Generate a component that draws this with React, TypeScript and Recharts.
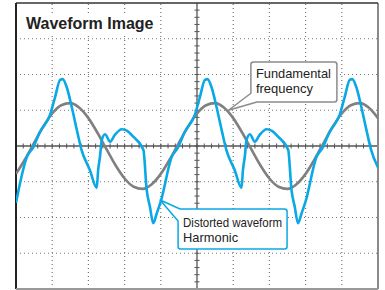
import React from 'react';
import { LineChart, Line, XAxis, YAxis, ReferenceLine, ReferenceDot } from 'recharts';

// ---- data (in screen divisions: x 0..10, y -4..4) ----
const fundamentalX = [0, 0.25, 0.5, 0.75, 1, 1.25, 1.5, 1.75, 2, 2.25, 2.5, 2.75, 3, 3.25, 3.5, 3.75, 4, 4.25, 4.5, 4.75, 5, 5.25, 5.5, 5.75, 6, 6.25, 6.5, 6.75, 7, 7.25, 7.5, 7.75, 8, 8.25, 8.5, 8.75, 9, 9.25, 9.5, 9.75, 10];
const fundamentalY = [-0.78, -0.37, 0.09, 0.54, 0.91, 1.14, 1.2, 1.07, 0.78, 0.37, -0.09, -0.54, -0.91, -1.14, -1.2, -1.07, -0.78, -0.37, 0.09, 0.54, 0.91, 1.14, 1.2, 1.07, 0.78, 0.37, -0.09, -0.54, -0.91, -1.14, -1.2, -1.07, -0.78, -0.37, 0.09, 0.54, 0.91, 1.14, 1.2, 1.07, 0.78];

const harmonicX = [
  0, 0.3, 0.48, 0.66, 0.94, 1.08, 1.22, 1.29, 1.4, 1.54, 1.68, 1.81, 2.04, 2.23, 2.27, 2.32, 2.37, 2.46, 2.6, 2.73, 2.92, 3.06, 3.24, 3.52, 3.61, 3.7, 3.79, 3.89,
  4.0, 4.3, 4.48, 4.66, 4.94, 5.08, 5.22, 5.29, 5.4, 5.54, 5.68, 5.81, 6.04, 6.23, 6.27, 6.32, 6.37, 6.46, 6.6, 6.73, 6.92, 7.06, 7.24, 7.52, 7.61, 7.7, 7.79, 7.89,
  8.0, 8.3, 8.48, 8.66, 8.94, 9.08, 9.22, 9.29, 9.4, 9.54, 9.68, 9.81, 10.0,
];
const harmonicY = [
  -1.59, -0.31, -0.03, 0.39, 0.87, 1.37, 1.85, 1.87, 1.65, 1.09, 0.45, -0.11, -0.67, -1.17, -0.67, -0.3, 0.17, 0.33, 0.12, 0.31, 0.47, 0.43, 0.26, -0.11, -1.23, -1.7, -2.16, -1.88,
  -1.55, -0.31, -0.03, 0.39, 0.87, 1.37, 1.85, 1.87, 1.65, 1.09, 0.45, -0.11, -0.67, -1.17, -0.67, -0.3, 0.17, 0.33, 0.12, 0.31, 0.47, 0.43, 0.26, -0.11, -1.23, -1.7, -2.16, -1.88,
  -1.55, -0.31, -0.03, 0.39, 0.87, 1.37, 1.85, 1.87, 1.65, 1.09, 0.45, -0.11, -0.6,
];

const gridXs = [1, 2, 3, 4, 6, 7, 8, 9];
const gridYs = [-3, -2, -1, 1, 2, 3];

const titleText = 'Waveform Image';
const fundamentalLabel = ['Fundamental', 'frequency'];
const harmonicLabel = ['Distorted waveform', 'Harmonic'];
const fundamentalTip = { x: 5.87, y: 1.0 };
const harmonicTip = { x: 3.98, y: -1.51 };

const fundamentalData = fundamentalX.map((x, i) => ({ x, y: fundamentalY[i] }));
const harmonicData = harmonicX.map((x, i) => ({ x, y: harmonicY[i] }));

const minorXs = Array.from({ length: 49 }, (_, i) => +((i + 1) * 0.2).toFixed(2));
const minorYs = Array.from({ length: 39 }, (_, i) => +(-4 + (i + 1) * 0.2).toFixed(2));

const GRAY = '#808080';
const BLUE = '#0AA8E4';
const FONT = "'Liberation Sans', Arial, Helvetica, sans-serif";

function FundamentalCallout(props: any) {
  const { cx, cy } = props;
  if (cx == null || cy == null) return null;
  const L = cx + 22.4, T = cy - 48.3, R = cx + 108.4, B = cy - 8.3, r = 2.5;
  const d = `M${cx},${cy} L${L},${cy - 17} L${L},${T + r} Q${L},${T} ${L + r},${T} L${R - r},${T} Q${R},${T} ${R},${T + r} L${R},${B - r} Q${R},${B} ${R - r},${B} L${cx + 28.4},${B} Z`;
  return (
    <g>
      <path d={d} fill="#fff" stroke="#8c8c8c" strokeWidth={1.5} strokeLinejoin="round" />
      <text x={cx + 27.4} y={cy - 32} fontSize={13} fontFamily={FONT} fill="#222" textLength={75} lengthAdjust="spacingAndGlyphs">{fundamentalLabel[0]}</text>
      <text x={cx + 27.4} y={cy - 17.3} fontSize={13} fontFamily={FONT} fill="#222" textLength={57} lengthAdjust="spacingAndGlyphs">{fundamentalLabel[1]}</text>
    </g>
  );
}

function HarmonicCallout(props: any) {
  const { cx, cy } = props;
  if (cx == null || cy == null) return null;
  const L = cx + 18, T = cy + 9, R = cx + 127, B = cy + 49, r = 2.5;
  const d = `M${cx},${cy} L${L + 2},${T} L${R - r},${T} Q${R},${T} ${R},${T + r} L${R},${B - r} Q${R},${B} ${R - r},${B} L${L + r},${B} Q${L},${B} ${L},${B - r} L${L},${cy + 21} Z`;
  return (
    <g>
      <path d={d} fill="#fff" stroke={BLUE} strokeWidth={1.5} strokeLinejoin="round" />
      <text x={cx + 23} y={cy + 27.3} fontSize={13.5} fontFamily={FONT} fill="#222" textLength={99} lengthAdjust="spacingAndGlyphs">{harmonicLabel[0]}</text>
      <text x={cx + 23} y={cy + 42.5} fontSize={13.5} fontFamily={FONT} fill="#222" textLength={55} lengthAdjust="spacingAndGlyphs">{harmonicLabel[1]}</text>
    </g>
  );
}

export default function App() {
  return (
    <div style={{ position: 'absolute', left: 0, top: 0, width: 385, height: 290, background: '#fff' }}>
      <LineChart width={385} height={290} data={fundamentalData} margin={{ top: 3, right: 7, bottom: 1, left: 16 }}>
        <XAxis type="number" dataKey="x" domain={[0, 10]} hide allowDataOverflow />
        <YAxis type="number" domain={[-4, 4]} hide allowDataOverflow />
        {gridXs.map((x) => (
          <ReferenceLine key={`gx${x}`} x={x} stroke="#777" strokeWidth={1.2} strokeDasharray="1 3" />
        ))}
        {gridYs.map((y) => (
          <ReferenceLine key={`gy${y}`} y={y} stroke="#777" strokeWidth={1.2} strokeDasharray="1 3" />
        ))}
        <ReferenceLine x={5} stroke="#555" strokeWidth={1.3} />
        <ReferenceLine y={0} stroke="#555" strokeWidth={1.3} />
        {minorXs.map((x) => (
          <ReferenceLine key={`mx${x}`} segment={[{ x, y: -0.07 }, { x, y: 0.07 }]} stroke="#555" strokeWidth={1} />
        ))}
        {minorYs.map((y) => (
          <ReferenceLine key={`my${y}`} segment={[{ x: 4.93, y }, { x: 5.07, y }]} stroke="#555" strokeWidth={1} />
        ))}
        <ReferenceLine x={0} stroke="#222" strokeWidth={2} />
        <ReferenceLine x={10} stroke="#8a8a8a" strokeWidth={2} />
        <ReferenceLine y={4} stroke="#333" strokeWidth={1.5} />
        <ReferenceLine y={-4} stroke="#999" strokeWidth={2} />
        <Line data={fundamentalData} dataKey="y" type="monotone" stroke={GRAY} strokeWidth={2.6} dot={false} activeDot={false} isAnimationActive={false} />
        <Line data={harmonicData} dataKey="y" type="monotone" stroke={BLUE} strokeWidth={2.6} dot={false} activeDot={false} isAnimationActive={false} />
        <ReferenceDot x={fundamentalTip.x} y={fundamentalTip.y} r={0} shape={FundamentalCallout} />
        <ReferenceDot x={harmonicTip.x} y={harmonicTip.y} r={0} shape={HarmonicCallout} />
      </LineChart>
      <div
        style={{
          position: 'absolute', left: 20, top: 13, height: 22, lineHeight: '22px', paddingLeft: 6, paddingRight: 4,
          background: '#fff', fontFamily: FONT, fontWeight: 'bold', fontSize: 16, color: '#222', whiteSpace: 'nowrap',
        }}
      >
        {titleText}
      </div>
    </div>
  );
}
